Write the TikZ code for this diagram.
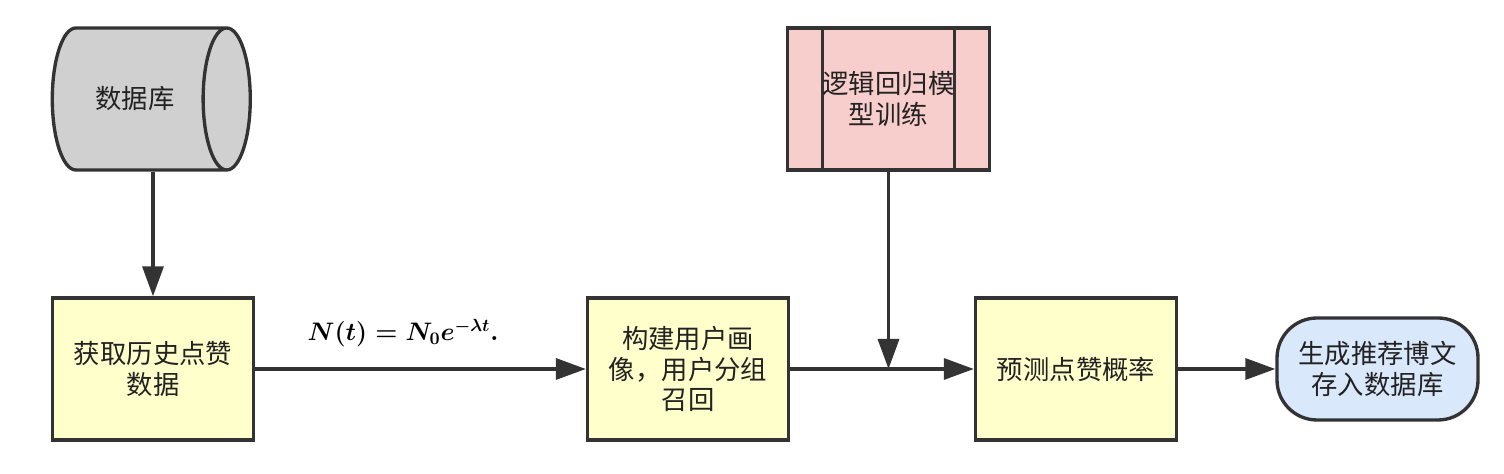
\documentclass[tikz,border=0pt]{standalone}
\usepackage{amsmath, amssymb}
\usepackage{fontspec}
\newfontfamily\cjk{Noto Sans CJK SC}
\usetikzlibrary{arrows.meta, positioning, shapes.geometric}

\definecolor{lineC}{HTML}{333333}
\definecolor{textC}{HTML}{222222}
\definecolor{yellowC}{HTML}{FFFFCC}
\definecolor{pinkC}{HTML}{F8CECC}
\definecolor{blueC}{HTML}{DAE8FC}
\definecolor{grayC}{HTML}{D0D0D0}

\newcommand{\cjksize}{\cjk\fontsize{15}{17.5}\selectfont}
\newcommand{\eqsize}{\fontsize{14}{16}\selectfont\mathversion{bold}}
\newcommand{\decayeq}{\ensuremath{N(t) = N_0 e^{-\lambda t}.}}

\tikzset{
    base/.style={draw=lineC, line width=1.9pt, align=center, text=textC,
        font=\cjksize, inner sep=2pt},
    stepbox/.style={base, rectangle, fill=yellowC, minimum width=4.02cm, minimum height=2.84cm},
    procbox/.style={base, rectangle, fill=pinkC, minimum width=4.04cm, minimum height=2.84cm,
        path picture={
            \draw[lineC, line width=1.9pt]
                ([xshift=0.7cm]path picture bounding box.north west) --
                ([xshift=0.7cm]path picture bounding box.south west);
            \draw[lineC, line width=1.9pt]
                ([xshift=-0.7cm]path picture bounding box.north east) --
                ([xshift=-0.7cm]path picture bounding box.south east);
        }},
    endbox/.style={base, rectangle, rounded corners=0.8cm, fill=blueC,
        minimum width=4.02cm, minimum height=2.04cm},
    dbbox/.style={base, cylinder, aspect=1.5, shape border rotate=0,
        cylinder uses custom fill, cylinder body fill=grayC, cylinder end fill=grayC,
        minimum width=2.84cm, minimum height=3.96cm},
    flow/.style={draw=lineC, line width=1.9pt, -{Triangle[length=0.6cm, width=0.42cm]}},
    eqlabel/.style={font=\eqsize, inner sep=0pt}
}

\begin{document}
\begin{tikzpicture}
    \useasboundingbox (0,0) rectangle (30.08,9.48);

    % Top row
    \node[dbbox] (db) at (2.7,7.5) {数据库};
    \node[procbox] (train) at (17.77,7.5) {逻辑回归模\\型训练};

    % Bottom row
    \node[stepbox] (fetch) at (3.06,2.1) {获取历史点赞\\数据};
    \node[stepbox] (profile) at (13.76,2.1) {构建用户画\\像，用户分组\\召回};
    \node[stepbox] (predict) at (21.52,2.1) {预测点赞概率};
    \node[endbox] (store) at (27.55,2.1) {生成推荐博文\\存入数据库};

    % Formula above the first arrow
    \node[eqlabel] (eq) at (8.06,2.82) {\decayeq};

    % Connectors
    \coordinate (dbout) at (db.south -| fetch.north);
    \draw[flow] (dbout) -- (fetch);
    \draw[flow] (fetch) -- (profile);
    \draw[flow] (profile) -- (predict);
    \coordinate (join) at (train.south |- predict.west);
    \draw[flow] (train) -- (join);
    \draw[flow] (predict) -- (store);
\end{tikzpicture}
\end{document}
